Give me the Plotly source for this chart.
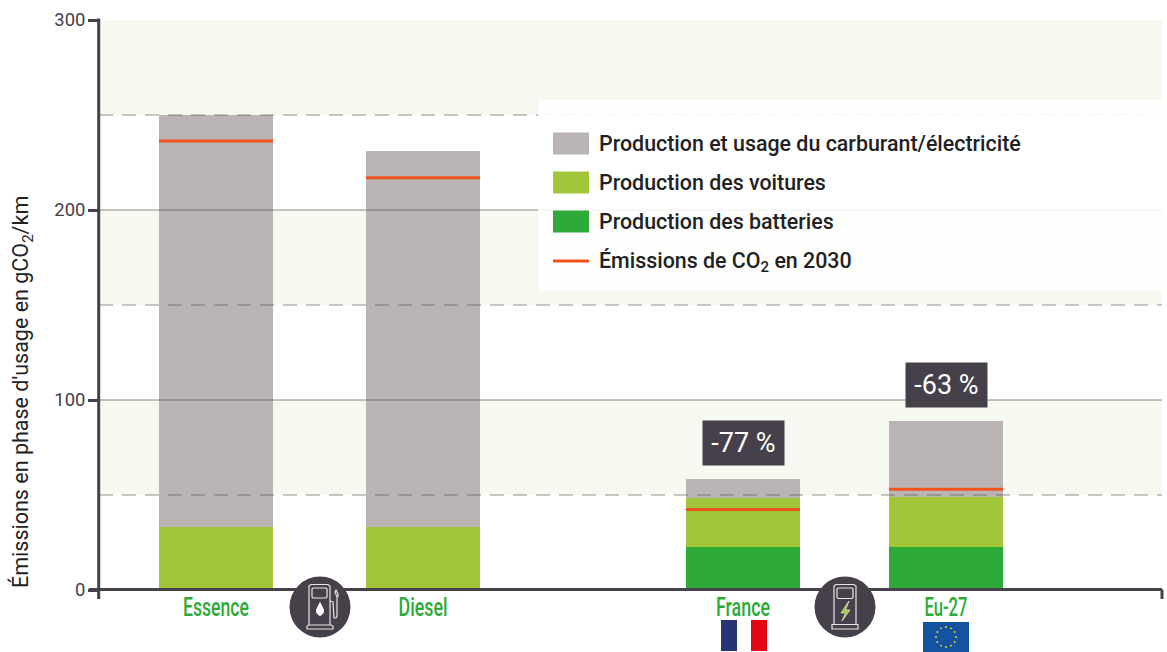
import math
import plotly.graph_objects as go

# ---- data ----
categories = ["Essence", "Diesel", "France", "Eu-27"]
batteries = [0, 0, 22.5, 22.5]
cars = [33, 33, 26, 26.5]
fuel = [217, 198, 10, 40]
co2_2030 = [236.3, 217, 42.4, 53]
reductions = [None, None, "-77 %", "-63 %"]
y_ticks = [0, 100, 200, 300]
legend_labels = [
    "Production et usage du carburant/électricité",
    "Production des voitures",
    "Production des batteries",
    "Émissions de CO<sub>2</sub> en 2030",
]

# ---- layout constants ----
W, H = 1167, 652
L, R, T, B = 99, 1162, 20, 590
slots = [117, 324, 644, 847]
BAR_W = 114
DARK = "#45404a"
GREY = "#bab4b5"
LIME = "#a1c63a"
GREEN = "#2eaa38"
RED = "#f0531f"
BAND = "#f5f9ef"
FONT = "Roboto"
label_widths = [66, 49, 54, 43]


def px(x):
    return (x - L) / (R - L)


def py(y):
    return (B - y) / (B - T)


def pth(points, close=False):
    d = "M" + " L".join(f"{px(x):.5f},{py(y):.5f}" for x, y in points)
    return d + (" Z" if close else "")


shapes = []


def rect_px(x0, y0, x1, y1, fill, line=None, lw=0, layer="above"):
    shapes.append(dict(type="rect", xref="paper", yref="paper", x0=px(x0), x1=px(x1),
                       y0=py(y1), y1=py(y0), fillcolor=fill, layer=layer,
                       line=dict(color=line or fill, width=lw)))


def circle_px(cx, cy, r, fill, line=None, lw=0):
    shapes.append(dict(type="circle", xref="paper", yref="paper", x0=px(cx - r), x1=px(cx + r),
                       y0=py(cy + r), y1=py(cy - r), fillcolor=fill, layer="above",
                       line=dict(color=line or fill, width=lw)))


def path_px(points, line="#e6e4e6", lw=1.2, fill="rgba(0,0,0,0)", close=False):
    shapes.append(dict(type="path", xref="paper", yref="paper", path=pth(points, close),
                       fillcolor=fill, layer="above", line=dict(color=line, width=lw)))


def line_px(x0, y0, x1, y1, color=DARK, width=3):
    shapes.append(dict(type="line", xref="paper", yref="paper", x0=px(x0), x1=px(x1), y0=py(y0), y1=py(y1),
                       layer="above", line=dict(color=color, width=width)))


# bands
for a, b in [(50, 100), (150, 200), (250, 300)]:
    shapes.append(dict(type="rect", xref="paper", yref="y", x0=0, x1=1, y0=a, y1=b,
                       fillcolor=BAND, line=dict(width=0), layer="below"))
# grid lines, drawn over the bars
for v in [100, 200]:
    shapes.append(dict(type="line", xref="paper", yref="y", x0=0, x1=1, y0=v, y1=v, layer="above",
                       line=dict(color="rgba(90,80,80,0.45)", width=1.5)))
for v in [50, 150, 250]:
    shapes.append(dict(type="line", xref="paper", yref="y", x0=0, x1=1, y0=v, y1=v, layer="above",
                       line=dict(color="rgba(90,80,80,0.42)", width=1.5, dash="14px,9px")))

# legend
rect_px(538, 100, 1162, 291, "rgba(255,255,255,0.88)")
rows = [143.5, 182.5, 221.5, 262]
for yy, col in zip(rows[:3], [GREY, LIME, GREEN]):
    rect_px(553, yy - 11, 589, yy + 11, col)
line_px(553, 261, 589, 261, RED, 3)

# axis lines and their end ticks
line_px(98.7, 18.5, 98.7, 599)
line_px(89, 589.5, 1162, 589.5)
line_px(1162, 589.5, 1162, 599)

# fuel pump icon
circle_px(320, 607, 30.5, DARK)
path_px([(309, 625), (309, 586), (311, 584.5), (328, 584.5), (330, 586), (330, 625)])
path_px([(313, 588), (326, 588), (327, 589), (327, 597), (326, 598), (313, 598), (312, 597), (312, 589)], close=True)
path_px([(307, 629), (307, 626), (309, 625), (331, 625), (333, 626), (333, 629)], close=True)
path_px([(330, 601), (333, 602), (334, 618), (336, 618), (337, 616), (337, 597), (335, 592), (336, 590), (338, 594), (338, 597)])
path_px([(320, 603), (323.5, 610), (323, 613), (320, 615.5), (317, 613), (316.5, 610)], line="white", fill="white", close=True)

# charger icon
circle_px(845, 607, 30.5, DARK)
path_px([(834, 624), (834, 586), (836, 584.5), (854, 584.5), (856, 586), (856, 624)])
path_px([(838, 588), (852, 588), (853, 589), (853, 597), (852, 598.5), (838, 598.5), (837, 597), (837, 589)], close=True)
path_px([(832, 629), (832, 624.5), (858, 624.5), (858, 629)], close=True)
path_px([(849, 601), (841, 613), (845.5, 613), (842, 621), (850, 610), (845.5, 610)], line="#dfe6cf", lw=0.8, fill=LIME, close=True)

# flags
rect_px(721, 620, 737, 651, "#273474")
rect_px(751, 620, 767, 651, "#e30613")
rect_px(923, 622, 969, 652, "#15529f")
for i in range(12):
    a = math.radians(30 * i)
    circle_px(946 + 10 * math.sin(a), 637 - 10 * math.cos(a), 0.9, "#f4e224")

annotations = []
for yy, lab in zip(rows, legend_labels):
    annotations.append(dict(xref="paper", yref="paper", x=px(596.5), y=py(yy), xanchor="left", yanchor="middle",
                            text=lab, showarrow=False, font=dict(family=FONT, size=21.4, color="#222222", weight=500)))
for s, total, r in zip(slots, [a + b + c for a, b, c in zip(batteries, cars, fuel)], reductions):
    if r:
        annotations.append(dict(x=s, y=total, xref="x", yref="y", yanchor="bottom", xanchor="center", yshift=13,
                                text=r, showarrow=False, width=81, height=44, bgcolor=DARK, borderpad=0,
                                font=dict(family=FONT, size=27, color="white")))
annotations.append(dict(xref="paper", yref="paper", x=px(22), y=py(392), textangle=-90, xanchor="center", yanchor="middle",
                        text="Émissions en phase d'usage en gCO<sub>2</sub>/km", showarrow=False,
                        font=dict(family=FONT, size=21.5, color="#222222")))

fig = go.Figure()
for name, vals, col in [("Production des batteries", batteries, GREEN),
                        ("Production des voitures", cars, LIME),
                        ("Production et usage du carburant/électricité", fuel, GREY)]:
    fig.add_bar(x=slots, y=vals, width=BAR_W, marker=dict(color=col, line=dict(width=0)), name=name)

xs, ys = [], []
for s, v in zip(slots, co2_2030):
    xs += [s - BAR_W / 2, s + BAR_W / 2, None]
    ys += [v, v, None]
fig.add_scatter(x=xs, y=ys, mode="lines", line=dict(color=RED, width=3), name="Émissions de CO2 en 2030")

fig.update_layout(
    width=W, height=H, barmode="stack", showlegend=False, bargap=0,
    margin=dict(l=L, r=W - R, t=T, b=H - B, pad=0),
    paper_bgcolor="white", plot_bgcolor="white",
    shapes=shapes, annotations=annotations, font=dict(family=FONT),
    xaxis=dict(range=[0, R - L], tickmode="array", tickvals=slots, ticktext=categories, showgrid=False,
               zeroline=False, ticks="", showline=False,
               tickfont=dict(family=FONT, size=25, color=GREEN, weight=500)),
    yaxis=dict(range=[0, 300], tickmode="array", tickvals=y_ticks, showgrid=False, zeroline=False,
               ticks="outside", ticklen=10, tickwidth=3, tickcolor=DARK, showline=False, ticklabelstandoff=-1,
               tickfont=dict(family=FONT, size=18.4, color=DARK)),
)
# narrow the category labels to the condensed look of the original
squeeze = (
    "document.body.style.margin='0';"
    "var w=" + str(label_widths) + ";"
    "document.querySelectorAll('.xtick text').forEach(function(t,i){"
    "t.setAttribute('textLength',w[i]);t.setAttribute('lengthAdjust','spacingAndGlyphs');});"
)
fig.write_html("out.html", post_script=squeeze, config={"displayModeBar": False})
